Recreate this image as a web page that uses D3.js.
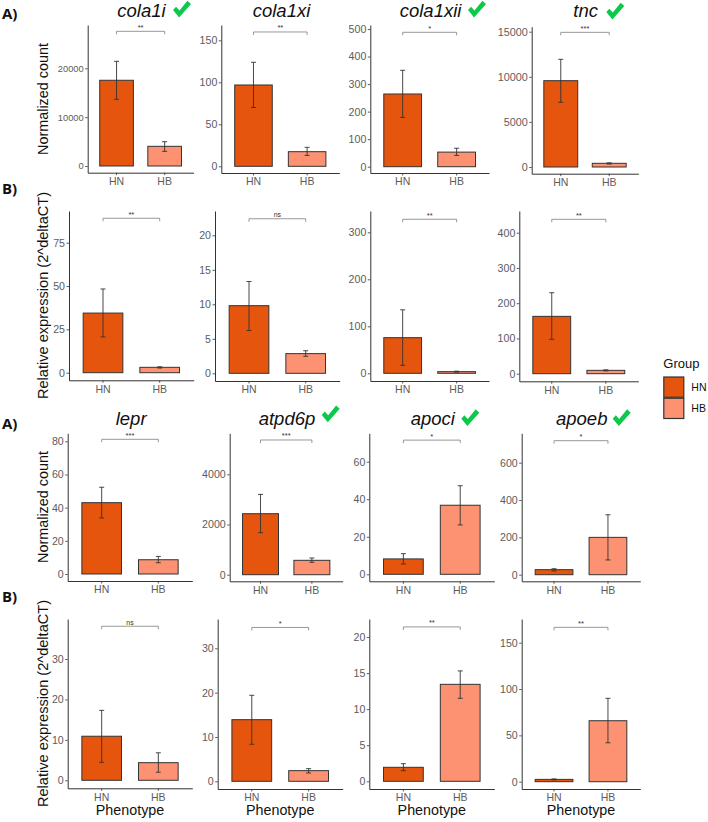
<!DOCTYPE html>
<html><head><meta charset="utf-8">
<script src="https://cdn.jsdelivr.net/npm/d3@7"></script>
<style>
html,body{margin:0;padding:0;background:#fff}
svg{display:block}
text{font-family:"Liberation Sans",Arial,sans-serif}
</style></head><body><div id="chart"></div>
<script>
// ---- data ----
const groups = ["HN","HB"];
const genes = ["cola1i","cola1xi","cola1xii","tnc",null,null,null,null,"lepr","atpd6p","apoci","apoeb",null,null,null,null];
const checked = ["cola1i","cola1xii","tnc","atpd6p","apoci","apoeb"];
const significance = ["**","**","*","***","**","ns","**","**","***","***","*","*","ns","*","**","**"];
const hnMean = [17550,96.8,264,9570,34.4,9.8,75.8,162.7,43,2430,8.2,27,10.9,13.9,1.94,2.5];
const hnLow  = [13650,70,179,7170,20.6,6.2,17,97.5,33.8,1673,5.5,20,4.45,8.35,1.47,2];
const hnHigh = [21430,123.8,350,11940,48.3,13.3,135,229.8,52.3,3200,11,32,17.3,19.4,2.44,3];
const hbMean = [4030,17.4,53,410,3.1,2.85,3.5,9.5,8.6,573,36.8,200,4.36,2.4,13.44,65.8];
const hbLow  = [3000,13,41,330,2.7,2.46,2.5,8,6.8,494,26.3,79,2,1.87,11.5,42];
const hbHigh = [4975,22.6,67,460,3.4,3.27,4.5,11,10.6,665,47.2,321,6.8,2.85,15.3,90];
const bracketLevel = [27570,159.9,488,14930,89.1,22.4,327.7,438,81.2,5367,71.5,718,38.1,34.7,21.4,166.6];
const yTicks = [
 [0,10000,20000],[0,50,100,150],[0,100,200,300,400,500],[0,5000,10000,15000],
 [0,25,50,75],[0,5,10,15,20],[0,100,200,300],[0,100,200,300,400],
 [0,20,40,60,80],[0,2000,4000],[0,20,40,60],[0,200,400,600],
 [0,10,20,30],[0,10,20,30],[0,5,10,15,20],[0,50,100,150]
];
const yTitleA = "Normalized count", yTitleB = "Relative expression (2^deltaCT)", xTitle = "Phenotype";

// ---- layout (pixels): left,right,top,bottom,y of 0,y of top tick ----
const frames = [
 [87.7,193.5,25,172.7,166,68.3],[221.3,339.3,25,173,166.3,40.3],[370.3,489,25,173,166.7,29],[531.7,638.3,26.7,173.7,167,31.7],
 [69,193.7,211,380.3,372.7,242.7],[215,339.7,211,381,373.3,235.3],[370.3,489,211,381,373.3,232.3],[519.3,638.3,211,381.3,373.7,232.7],
 [67.7,192.3,433.3,581,574,441.3],[229.7,342.7,433.3,581.3,574.7,474.3],[369.3,494.3,433.3,581.3,574.3,461.7],[521.7,640.3,433.3,581.3,574.7,462.7],
 [67.7,192.3,619,788.3,780.3,659],[217.7,342.7,619,789,781.3,648.3],[369.3,494.3,619,789,781.3,637],[521.7,640.3,619,789,781.7,642.7]
];
const tickFont = [9.3,10.6,10.6,10.8,10.6,10.6,10.6,10.6,10.6,10.6,10.6,10.6,10.6,10.6,10.6,10.6];
const titleSpots = {cola1i:[117.3,17],cola1xi:[252.7,17],cola1xii:[399.7,17],tnc:[573.3,17],lepr:[115.7,425],atpd6p:[258.7,425],apoci:[410.7,425],apoeb:[556,425]};
const checkBoxes = {cola1i:[173,0.7],cola1xii:[468,0.7],tnc:[606.3,2.7],atpd6p:[321.7,405.5],apoci:[461.3,409.3],apoeb:[612.7,409.3]};
const rowTags = [["A)",2,19],["B)",2,193.5],["A)",2,429],["B)",2,602]];
const yTitles = [[yTitleA,99,14.4],[yTitleB,295.5,14.6],[yTitleA,507,14.4],[yTitleB,703.5,14.6]];
const colors = {HN:"#E6550D",HB:"#FC9272"};
const ink = "#333333", tickInk = "#5c5c5c";

const svg = d3.select("#chart").append("svg").attr("width",708).attr("height",822);
svg.append("rect").attr("width",708).attr("height",822).attr("fill","#fff");

frames.forEach((f,i)=>{
  const [l,r,t,b,y0,yTop] = f;
  const ticks = yTicks[i];
  const base = d3.scaleLinear().domain([0,ticks[ticks.length-1]]).range([y0,yTop]);
  const y = d3.scaleLinear().domain([base.invert(b),base.invert(t)]).range([b,t]);
  const x = d3.scaleBand().domain(groups).range([l,r]).paddingInner(0.3).paddingOuter(0.25);
  const g = svg.append("g");
  const rows = [
    {k:"HN",m:hnMean[i],lo:hnLow[i],hi:hnHigh[i]},
    {k:"HB",m:hbMean[i],lo:hbLow[i],hi:hbHigh[i]}
  ];
  g.selectAll("rect.bar").data(rows).join("rect").attr("class","bar")
    .attr("x",d=>x(d.k)).attr("width",x.bandwidth())
    .attr("y",d=>y(d.m)).attr("height",d=>y(0)-y(d.m))
    .attr("fill",d=>colors[d.k]).attr("stroke",ink).attr("stroke-width",1);
  const cx = d=>x(d.k)+x.bandwidth()/2;
  const capW = 2.5;
  g.selectAll("path.err").data(rows).join("path").attr("class","err")
    .attr("fill","none").attr("stroke",ink).attr("stroke-width",0.9)
    .attr("d",d=>`M${cx(d)-capW},${y(d.hi)}H${cx(d)+capW}M${cx(d)},${y(d.hi)}V${y(d.lo)}M${cx(d)-capW},${y(d.lo)}H${cx(d)+capW}`);
  // bracket
  const x1 = cx(rows[0]), x2 = cx(rows[1]), by = y(bracketLevel[i]);
  g.append("path").attr("fill","none").attr("stroke","#8c8c8c").attr("stroke-width",0.9)
    .attr("d",`M${x1},${by+3}V${by}H${x2}V${by+3}`);
  const sig = significance[i];
  g.append("text").attr("x",(x1+x2)/2).attr("y",by-1.5)
    .attr("text-anchor","middle").attr("font-size",sig==="ns"?7:7.5).attr("fill","#333").text(sig);
  // axes
  const ya = g.append("g").attr("transform",`translate(${l},0)`)
    .call(d3.axisLeft(y).tickValues(ticks).tickSize(2.5).tickSizeOuter(0).tickPadding(1.5).tickFormat(d3.format("d")));
  ya.selectAll("text").attr("font-size",tickFont[i]).attr("fill",tickInk).style("font-family",'"Liberation Sans",Arial,sans-serif');
  const xa = g.append("g").attr("transform",`translate(0,${b})`)
    .call(d3.axisBottom(x).tickSize(2.5).tickSizeOuter(0).tickPadding(2.3));
  xa.selectAll("text").attr("font-size",10.5).attr("fill",tickInk).style("font-family",'"Liberation Sans",Arial,sans-serif');
  [ya,xa].forEach(a=>{a.selectAll("path.domain").attr("stroke",ink).attr("stroke-width",1);a.selectAll("line").attr("stroke",ink).attr("stroke-width",0.8);});
  // x title on the bottom row
  if(i>=12){
    svg.append("text").attr("x",(l+r)/2).attr("y",814.5).attr("text-anchor","middle")
      .attr("font-size",14.3).attr("fill","#111").text(xTitle);
  }
  const gene = genes[i];
  if(gene){
    const [tx,ty] = titleSpots[gene];
    svg.append("text").attr("x",tx).attr("y",ty).attr("font-size",18.5).attr("font-style","italic").attr("fill","#111").text(gene);
  }
});

// check marks
const checkShape = [[0,0.56],[0.34,1],[1,0.2],[0.8,0],[0.36,0.58],[0.17,0.36]];
const checkLine = d3.line().x(d=>d[0]*18).y(d=>d[1]*16.8).curve(d3.curveLinearClosed);
checked.forEach(n=>{
  const [cx,cy] = checkBoxes[n];
  svg.append("path").attr("transform",`translate(${cx},${cy})`).attr("d",checkLine(checkShape)).attr("fill","#0CC94C");
});

// row tags
rowTags.forEach(([s,x,y])=>svg.append("text").attr("x",x).attr("y",y).attr("font-size",15).attr("font-weight",700)
  .style("font-family",'"Open Sans",sans-serif').attr("fill","#111").text(s));

// y titles
yTitles.forEach(([s,c,fs])=>svg.append("text").attr("transform",`translate(48,${c}) rotate(-90)`).attr("text-anchor","middle")
  .attr("font-size",fs).attr("fill","#111").text(s));

// legend
const lg = svg.append("g");
lg.append("text").attr("x",663.3).attr("y",368.3).attr("font-size",13).attr("fill","#111").text("Group");
const keyY = d3.scaleBand().domain(groups).range([376.5,419]);
groups.forEach(k=>{
  lg.append("rect").attr("x",663.8).attr("y",keyY(k)+0.5).attr("width",20).attr("height",keyY.bandwidth()-1)
    .attr("fill",colors[k]).attr("stroke",ink).attr("stroke-width",1.2);
  lg.append("text").attr("x",691.3).attr("y",keyY(k)+keyY.bandwidth()/2+4).attr("font-size",10.5).attr("fill","#111").text(k);
});
</script></body></html>
